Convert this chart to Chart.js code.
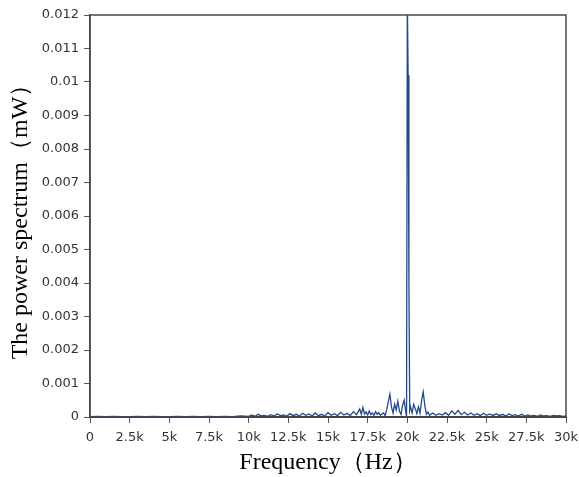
<!DOCTYPE html>
<html lang="en">
<head>
  <meta charset="UTF-8">
  <title>Power spectrum</title>
  <script src="https://cdn.jsdelivr.net/npm/chart.js"></script>
  <style>
    html, body { margin: 0; padding: 0; background: #fff; }
    #wrap { width: 579px; height: 477px; }
  </style>
</head>
<body>
  <div id="wrap"><canvas id="chart" width="579" height="477"></canvas></div>

  <script>
    // sample frequencies (Hz) and power (mW)
    const freqs = [
      0, 500, 1000, 1500, 2000, 2500, 3000, 3500, 4000, 4500,
      5000, 5500, 6000, 6500, 7000, 7500, 8000, 8500, 9000, 9500,
      10000, 10200, 10400, 10600, 10800, 11000, 11200, 11400, 11600, 11800,
      12000, 12200, 12400, 12600, 12800, 13000, 13200, 13400, 13600, 13800,
      14000, 14200, 14400, 14600, 14800, 15000, 15200, 15400, 15600, 15800,
      16000, 16200, 16400, 16600, 16800, 17000, 17100, 17200, 17300, 17400,
      17500, 17600, 17700, 17800, 17900, 18000, 18100, 18200, 18300, 18400,
      18500, 18600, 18700, 18800, 18900, 19000, 19100, 19200, 19300, 19400,
      19500, 19600, 19700, 19800, 19900, 19950, 20000, 20050, 20100, 20150,
      20200, 20300, 20400, 20500, 20600, 20700, 20800, 20900, 21000, 21100,
      21200, 21300, 21400, 21600, 21800, 22000, 22200, 22400, 22600, 22800,
      23000, 23200, 23400, 23600, 23800, 24000, 24200, 24400, 24600, 24800,
      25000, 25200, 25400, 25600, 25800, 26000, 26200, 26400, 26600, 26800,
      27000, 27200, 27400, 27600, 27800, 28000, 28200, 28400, 28600, 28800,
      29000, 29200, 29400, 29600, 29800, 30000
    ];
    const power = [
      0.00001, 0.00002, 0.00001, 0.00002, 0.00001, 0.00001, 0.00002, 0.00001, 0.00002, 0.00001,
      0.00001, 0.00002, 0.00001, 0.00002, 0.00001, 0.00002, 0.00001, 0.00002, 0.00001, 0.00003,
      0.00002, 0.00006, 0.00002, 0.00008, 0.00003, 0.00005, 0.00002, 0.00007, 0.00003, 0.00009,
      0.00004, 0.00006, 0.00002, 0.0001, 0.00004, 0.00008, 0.00003, 0.00011, 0.00005, 0.00009,
      0.00003, 0.00012, 0.00004, 0.00008, 0.00003, 0.00013, 0.00005, 0.0001, 0.00004, 0.00014,
      0.00006, 0.00011, 0.00004, 0.00016, 0.00007, 0.00024, 0.00008, 0.00028, 0.00009, 0.00015,
      0.00006, 0.00018, 0.00007, 0.00012, 0.00005, 0.00016, 0.00008, 0.00013, 0.00005, 0.00009,
      0.00012, 0.00004, 0.00022, 0.00045, 0.00068, 0.0003, 0.00012, 0.00038, 0.00021, 0.00047,
      0.00018, 0.00008, 0.00035, 0.0005, 0.00015, 0.00002, 0.0125, 0.0102, 0.004, 0.0002,
      0.0003, 0.00012, 0.00038, 0.00025, 0.0001, 0.0003, 0.00012, 0.0005, 0.00075, 0.00035,
      0.00008, 0.00015, 0.00005, 0.00012, 0.00005, 0.0001, 0.00006, 0.00013, 0.00005, 0.00018,
      0.00008, 0.0002, 0.00007, 0.00014, 0.00006, 0.00012, 0.00005, 0.0001, 0.00004, 0.00011,
      0.00005, 0.00009, 0.00004, 0.0001, 0.00004, 0.00008, 0.00003, 0.00009, 0.00004, 0.00007,
      0.00003, 0.00008, 0.00003, 0.00006, 0.00003, 0.00005, 0.00002, 0.00006, 0.00003, 0.00004,
      0.00002, 0.00005, 0.00003, 0.00004, 0.00002, 0.00003
    ];

    const xMin = 0, xMax = 30000, xStep = 2500;
    const yMin = 0, yMax = 0.012, yStep = 0.001;
    const xTitle = 'Frequency（Hz）';
    const yTitle = 'The power spectrum（mW）';

    const points = freqs.map((f, i) => ({ x: f, y: power[i] }));

    // box round the plot area (top and right edges)
    const frame = {
      id: 'frame',
      afterDatasetsDraw(chart) {
        const { ctx, chartArea: a } = chart;
        ctx.save();
        ctx.strokeStyle = '#4a4a4a';
        ctx.lineWidth = 1.5;
        ctx.strokeRect(a.left, a.top, a.right - a.left, a.bottom - a.top);
        ctx.restore();
      }
    };

    const tickFont = { family: 'DejaVu Sans', size: 13 };
    const titleFont = { family: 'Liberation Serif', size: 24 };

    new Chart(document.getElementById('chart'), {
      type: 'line',
      data: {
        datasets: [{
          data: points,
          borderColor: '#24488a',
          borderWidth: 1.3,
          pointRadius: 0,
          tension: 0
        }]
      },
      options: {
        responsive: false,
        animation: false,
        plugins: { legend: { display: false }, tooltip: { enabled: false } },
        layout: { padding: { top: 15, right: 13, left: 0, bottom: 0 } },
        scales: {
          x: {
            type: 'linear',
            min: xMin,
            max: xMax,
            afterFit: s => { s.height = 60; s.paddingRight = 0; s.paddingLeft = 0; },
            ticks: {
              stepSize: xStep,
              autoSkip: false,
              maxRotation: 0,
              padding: 7,
              color: '#333',
              font: tickFont,
              callback: v => v === 0 ? '0' : (v / 1000) + 'k'
            },
            grid: { drawOnChartArea: false, tickLength: 6, color: '#555' },
            border: { color: '#333', width: 2 },
            title: { display: true, text: xTitle, color: '#000', font: titleFont, padding: { top: 0, bottom: 0 } }
          },
          y: {
            min: yMin,
            max: yMax,
            afterFit: s => { s.width = 90; },
            ticks: {
              stepSize: yStep,
              padding: 5,
              color: '#333',
              font: tickFont,
              callback: v => String(Number(v.toFixed(3)))
            },
            grid: { drawOnChartArea: false, tickLength: 6, color: '#555' },
            border: { color: '#4a4a4a', width: 1.5 },
            title: { display: true, text: yTitle, color: '#000', font: titleFont, padding: { top: 6, bottom: 4 } }
          }
        }
      },
      plugins: [frame]
    });
  </script>
</body>
</html>
